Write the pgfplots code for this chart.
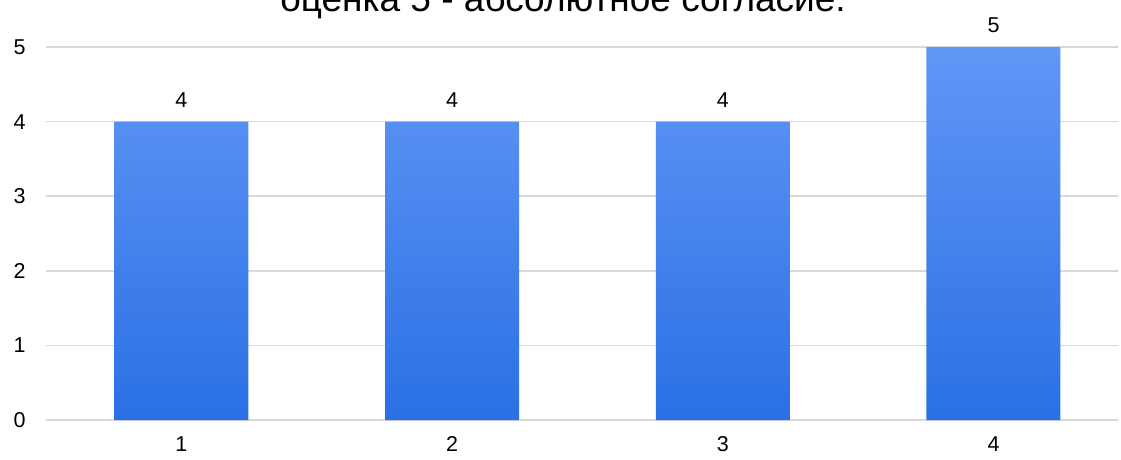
\documentclass[border=0pt]{standalone}
\usepackage{fontspec}
\setmainfont{Liberation Sans}
\usepackage{pgfplots}
\pgfplotsset{compat=1.18}
\definecolor{bartop}{HTML}{6197F6}
\definecolor{barmid}{HTML}{3C86FF}
\definecolor{barbot}{HTML}{2A70E4}
\definecolor{gridc}{HTML}{D9D9D9}
\begin{document}
\begin{tikzpicture}
\begin{axis}[
  at={(46pt,39pt)}, anchor=south west,
  scale only axis,
  width=1072pt, height=373pt,
  xmin=0.5, xmax=4.46,
  ymin=0, ymax=5,
  ytick={0,1,2,3,4,5},
  xtick={1,2,3,4},
  xticklabels={1,2,3,4},
  axis line style={draw=none},
  major tick length=0pt,
  ymajorgrids,
  grid style={gridc, line width=1.5pt},
  tick label style={font=\fontsize{21.5}{25}\selectfont, text=black},
  /pgf/number format/assume math mode=true,
  yticklabel style={xshift=-17pt},
  xticklabel style={yshift=-13pt},
  clip=false,
  ybar, bar width=134pt,
  nodes near coords,
  every node near coord/.append style={font=\fontsize{21.5}{25}\selectfont, text=black, yshift=11pt},
]
\addplot[draw=none, top color=bartop, middle color=barmid, bottom color=barbot] coordinates {(1,4) (2,4) (3,4) (4,5)};
\end{axis}
\node[anchor=base, font=\fontsize{37}{44}\selectfont] at (563pt,447pt) {оценка 5 - абсолютное согласие.};
\pgfresetboundingbox
\useasboundingbox (0,0) rectangle (1121pt,459pt);
\end{tikzpicture}
\end{document}
